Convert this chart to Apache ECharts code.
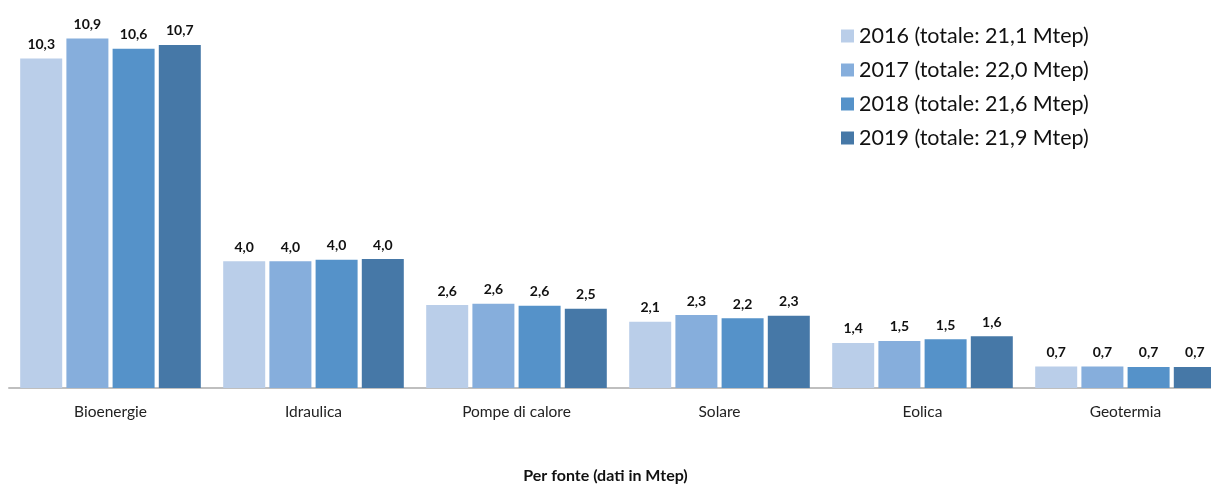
<!DOCTYPE html>
<html><head><meta charset="utf-8">
<script src="https://cdn.jsdelivr.net/npm/echarts@6/dist/echarts.min.js"></script>
<style>html,body{margin:0;padding:0;background:#fff}#c{width:1211px;height:484px}</style>
</head><body><div id="c"></div>
<script>
const categories = ['Bioenergie', 'Idraulica', 'Pompe di calore', 'Solare', 'Eolica', 'Geotermia'];
const seriesNames = ['2016 (totale: 21,1 Mtep)', '2017 (totale: 22,0 Mtep)', '2018 (totale: 21,6 Mtep)', '2019 (totale: 21,9 Mtep)'];
const v2016 = [10.3, 3.96, 2.59, 2.07, 1.41, 0.67];
const v2017 = [10.92, 3.96, 2.63, 2.28, 1.47, 0.67];
const v2018 = [10.6, 4.01, 2.57, 2.18, 1.52, 0.66];
const v2019 = [10.72, 4.03, 2.48, 2.26, 1.62, 0.66];
const colors = ['#BACEE9', '#86AEDC', '#5592C9', '#4678A7'];
const font = 'Lato, "Open Sans", sans-serif';
const values = [v2016, v2017, v2018, v2019];
const chart = echarts.init(document.getElementById('c'));
chart.setOption({
  animation: false,
  textStyle: {fontFamily: font},
  title: {text: 'Per fonte (dati in Mtep)', left: 'center', top: 463,
    textStyle: {fontSize: 16, fontWeight: 'bold', color: '#111', fontFamily: font}},
  legend: {orient: 'vertical', left: 836, top: 20, itemWidth: 13, itemHeight: 13, itemGap: 12,
    icon: 'rect', textStyle: {fontSize: 21.5, color: '#111', fontFamily: font}, data: seriesNames},
  grid: {left: 9, width: 1218, top: 20, bottom: 96, containLabel: false, outerBoundsMode: 'none'},
  xAxis: {type: 'category', data: categories,
    axisLine: {lineStyle: {color: '#BFBFBF', width: 2}}, axisTick: {show: false},
    axisLabel: {fontSize: 15.5, color: '#222', margin: 16, fontFamily: font}},
  yAxis: {type: 'value', min: 0, max: 11.5, show: false, splitLine: {show: false}},
  series: values.map((d, i) => ({
    name: seriesNames[i], type: 'bar', data: d, barWidth: 42, barGap: '10%',
    itemStyle: {color: colors[i]},
    label: {show: true, position: 'top', distance: 7, fontSize: 14, fontWeight: 'bold', color: '#111',
      fontFamily: font, formatter: p => p.value.toFixed(1).replace('.', ',')}
  }))
});
</script></body></html>
